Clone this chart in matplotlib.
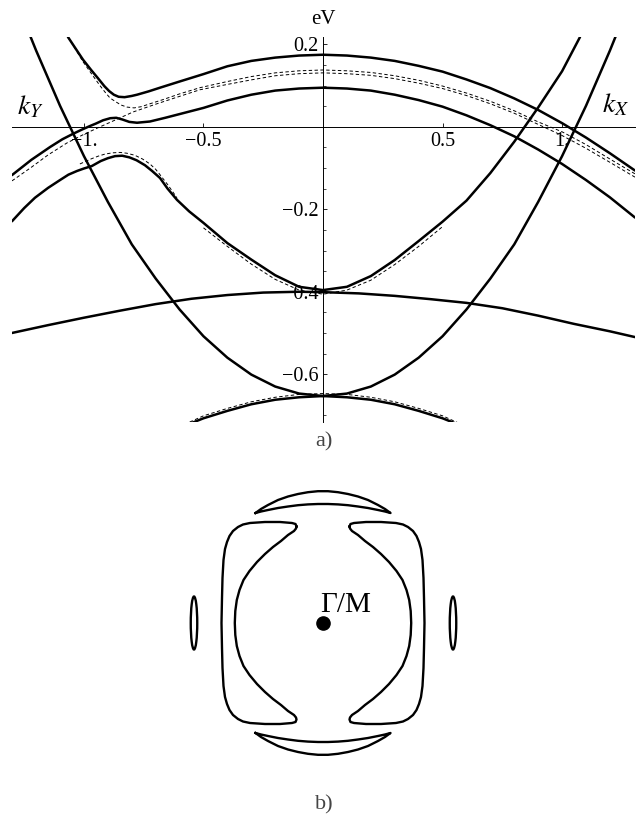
import matplotlib
matplotlib.use('Agg')
import matplotlib.pyplot as plt
from matplotlib.ticker import FixedLocator, FixedFormatter, MultipleLocator
from matplotlib.patches import Ellipse

plt.rcParams['font.family'] = ['Liberation Serif', 'DejaVu Serif']
plt.rcParams['mathtext.fontset'] = 'stix'

# ---------------- panel a) band structure (k, E in eV) ----------------
# solid bands
s1_k = [-1.067, -1.035, -1.004, -0.970, -0.940, -0.915, -0.895, -0.875, -0.855, -0.830, -0.800,
        -0.778, -0.730, -0.682, -0.600, -0.500, -0.400, -0.300, -0.200, -0.100, 0.0,
        0.100, 0.200, 0.300, 0.400, 0.500, 0.600, 0.700, 0.800, 0.900, 1.000, 1.100, 1.200, 1.305]
s1_E = [0.218, 0.190, 0.163, 0.138, 0.117, 0.099, 0.087, 0.078, 0.073, 0.072, 0.075,
        0.078, 0.086, 0.095, 0.110, 0.128, 0.147, 0.160, 0.168, 0.173, 0.175,
        0.173, 0.168, 0.160, 0.148, 0.134, 0.115, 0.094, 0.069, 0.041, 0.009, -0.026, -0.064, -0.106]

s2_k = [-1.301, -1.220, -1.142, -1.090, -1.046, -1.010, -0.975, -0.950, -0.920, -0.890, -0.865,
        -0.840, -0.810, -0.778, -0.724, -0.660, -0.600, -0.500, -0.400, -0.300, -0.200, -0.100, 0.0,
        0.100, 0.200, 0.300, 0.400, 0.500, 0.600, 0.700, 0.800, 0.900, 1.000, 1.100, 1.200, 1.305]
s2_E = [-0.117, -0.080, -0.049, -0.030, -0.017, -0.007, 0.002, 0.008, 0.016, 0.021, 0.022,
        0.018, 0.012, 0.010, 0.013, 0.022, 0.031, 0.046, 0.064, 0.078, 0.088, 0.093, 0.095,
        0.093, 0.088, 0.078, 0.065, 0.049, 0.028, 0.004, -0.023, -0.055, -0.090, -0.129, -0.171, -0.220]

s3_k = [-1.230, -1.200, -1.100, -1.000, -0.900, -0.800, -0.700, -0.600, -0.500, -0.400, -0.300,
        -0.200, -0.100, 0.0, 0.100, 0.200, 0.300, 0.400, 0.500, 0.600, 0.700, 0.800, 0.900,
        1.000, 1.100, 1.200, 1.230]
s3_E = [0.228, 0.185, 0.051, -0.071, -0.182, -0.285, -0.368, -0.443, -0.508, -0.560, -0.601,
        -0.630, -0.647, -0.653, -0.647, -0.630, -0.601, -0.560, -0.508, -0.443, -0.368, -0.285, -0.182,
        -0.071, 0.051, 0.185, 0.228]

s4_k = [-1.301, -1.250, -1.205, -1.150, -1.100, -1.065, -1.029, -1.000, -0.967, -0.930, -0.900,
        -0.870, -0.840, -0.810, -0.780, -0.745, -0.715, -0.682, -0.650, -0.611, -0.560, -0.500,
        -0.400, -0.300, -0.200, -0.100, 0.0, 0.100, 0.200, 0.300, 0.400, 0.500, 0.600, 0.700,
        0.800, 0.900, 1.000, 1.075]
s4_E = [-0.229, -0.197, -0.172, -0.148, -0.129, -0.116, -0.107, -0.101, -0.095, -0.083, -0.076,
        -0.071, -0.070, -0.074, -0.081, -0.093, -0.107, -0.124, -0.150, -0.177, -0.205, -0.233,
        -0.282, -0.322, -0.360, -0.388, -0.396, -0.388, -0.362, -0.323, -0.277, -0.230, -0.179, -0.112,
        -0.036, 0.047, 0.135, 0.218]

s6_k = [-1.301, -1.150, -1.000, -0.850, -0.700, -0.550, -0.400, -0.250, -0.100, 0.0,
        0.150, 0.300, 0.450, 0.600, 0.750, 0.900, 1.050, 1.200, 1.305]
s6_E = [-0.500, -0.481, -0.463, -0.446, -0.430, -0.417, -0.408, -0.402, -0.400, -0.401,
        -0.404, -0.410, -0.418, -0.427, -0.440, -0.458, -0.478, -0.496, -0.510]

s7_k = [-0.600, -0.500, -0.400, -0.300, -0.200, -0.100, 0.0, 0.100, 0.200, 0.300, 0.400, 0.500, 0.600]
s7_E = [-0.730, -0.707, -0.689, -0.673, -0.662, -0.656, -0.653, -0.656, -0.662, -0.673, -0.689, -0.707, -0.730]

# dashed (unhybridised) bands
d1_k = [-1.067, -1.035, -1.004, -0.965, -0.933, -0.910, -0.891, -0.870, -0.845, -0.820, -0.790,
        -0.760, -0.724, -0.670, -0.600, -0.515, -0.400, -0.300, -0.200, -0.100, 0.0,
        0.100, 0.200, 0.300, 0.400, 0.500, 0.600, 0.700, 0.800, 0.900, 1.000, 1.100, 1.200, 1.305]
d1_E = [0.218, 0.188, 0.158, 0.126, 0.100, 0.083, 0.070, 0.062, 0.053, 0.048, 0.046,
        0.049, 0.056, 0.066, 0.080, 0.095, 0.110, 0.122, 0.131, 0.136, 0.138,
        0.136, 0.132, 0.124, 0.113, 0.099, 0.082, 0.062, 0.039, 0.012, -0.012, -0.043, -0.078, -0.114]

d2_k = [-1.301, -1.220, -1.150, -1.071, -1.000, -0.933, -0.860, -0.795, -0.700, -0.600, -0.515,
        -0.400, -0.300, -0.200, -0.100, 0.0,
        0.100, 0.200, 0.300, 0.400, 0.500, 0.600, 0.700, 0.800, 0.900, 1.000, 1.100, 1.200, 1.305]
d2_E = [-0.131, -0.098, -0.068, -0.039, -0.018, 0.000, 0.019, 0.036, 0.055, 0.074, 0.090,
        0.103, 0.114, 0.124, 0.129, 0.131,
        0.129, 0.125, 0.117, 0.106, 0.093, 0.076, 0.056, 0.033, 0.006, -0.021, -0.052, -0.086, -0.122]

d3_k = [-1.017, -0.990, -0.967, -0.940, -0.912, -0.880, -0.849, -0.820, -0.787, -0.755, -0.724,
        -0.700, -0.682, -0.650, -0.611]
d3_E = [-0.090, -0.083, -0.077, -0.071, -0.066, -0.063, -0.062, -0.064, -0.069, -0.078, -0.090,
        -0.103, -0.116, -0.140, -0.172]

d4_k = [-0.500, -0.400, -0.300, -0.200, -0.100, 0.0, 0.100, 0.200, 0.300, 0.400, 0.500]
d4_E = [-0.245, -0.290, -0.333, -0.370, -0.396, -0.406, -0.396, -0.372, -0.334, -0.290, -0.242]

d5_k = [-0.580, -0.500, -0.400, -0.300, -0.200, -0.100, 0.0, 0.100, 0.200, 0.300, 0.400, 0.500, 0.580]
d5_E = [-0.722, -0.701, -0.683, -0.667, -0.656, -0.649, -0.647, -0.649, -0.656, -0.667, -0.683, -0.701, -0.722]

x_ticks = [-1.0, -0.5, 0.5, 1.0]
x_ticklabels = ['\u22121.', '\u22120.5', '0.5', '1.']
y_ticks = [-0.6, -0.4, -0.2, 0.2]
y_ticklabels = ['\u22120.6', '\u22120.4', '\u22120.2', '0.2']

# ---------------- panel b) Fermi surface (kx, ky) ----------------
left_pocket_u = [-0.265, -0.275, -0.31, -0.43, -0.58, -0.73, -0.80, -0.85, -0.90, -0.935, -0.96,
                 -0.98, -0.995, -1.005, -1.01, -1.015,
                 -1.01, -1.005, -0.995, -0.98, -0.96, -0.935, -0.90, -0.85, -0.80, -0.73,
                 -0.58, -0.43, -0.31, -0.275, -0.265,
                 -0.27, -0.29, -0.35, -0.42, -0.50, -0.58, -0.66, -0.735, -0.795, -0.835, -0.862,
                 -0.877, -0.882, -0.877, -0.862, -0.835, -0.795, -0.735, -0.66, -0.58, -0.50,
                 -0.42, -0.35, -0.29, -0.27, -0.265]
left_pocket_v = [0.965, 0.99, 1.00, 1.01, 1.01, 1.00, 0.985, 0.96, 0.92, 0.87, 0.81,
                 0.74, 0.63, 0.45, 0.25, 0.0,
                 -0.25, -0.45, -0.63, -0.74, -0.81, -0.87, -0.92, -0.96, -0.985, -1.00,
                 -1.01, -1.01, -1.00, -0.99, -0.965,
                 -0.945, -0.92, -0.88, -0.82, -0.76, -0.69, -0.61, -0.52, -0.43, -0.33, -0.23,
                 -0.12, 0.0, 0.12, 0.23, 0.33, 0.43, 0.52, 0.61, 0.69, 0.76,
                 0.82, 0.88, 0.92, 0.945, 0.965]
right_pocket_u = [0.265, 0.275, 0.31, 0.43, 0.58, 0.73, 0.80, 0.85, 0.90, 0.935, 0.96,
                  0.98, 0.995, 1.005, 1.01, 1.015,
                  1.01, 1.005, 0.995, 0.98, 0.96, 0.935, 0.90, 0.85, 0.80, 0.73,
                  0.58, 0.43, 0.31, 0.275, 0.265,
                  0.27, 0.29, 0.35, 0.42, 0.50, 0.58, 0.66, 0.735, 0.795, 0.835, 0.862,
                  0.877, 0.882, 0.877, 0.862, 0.835, 0.795, 0.735, 0.66, 0.58, 0.50,
                  0.42, 0.35, 0.29, 0.27, 0.265]
right_pocket_v = left_pocket_v

top_lens_u = [-0.675, -0.62, -0.55, -0.45, -0.35, -0.25, -0.15, -0.05, 0.05, 0.15, 0.25, 0.35,
              0.45, 0.55, 0.62, 0.675,
              0.62, 0.55, 0.45, 0.35, 0.25, 0.15, 0.05, -0.05, -0.15, -0.25, -0.35, -0.45,
              -0.55, -0.62, -0.675]
top_lens_v = [1.10, 1.14, 1.18, 1.23, 1.265, 1.29, 1.308, 1.318, 1.318, 1.308, 1.29, 1.265,
              1.23, 1.18, 1.14, 1.10,
              1.115, 1.13, 1.15, 1.165, 1.178, 1.186, 1.19, 1.19, 1.186, 1.178, 1.165, 1.15,
              1.13, 1.115, 1.10]
bottom_lens_u = top_lens_u
bottom_lens_v = [-1.10, -1.14, -1.18, -1.23, -1.265, -1.29, -1.308, -1.318, -1.318, -1.308, -1.29, -1.265,
                 -1.23, -1.18, -1.14, -1.10,
                 -1.115, -1.13, -1.15, -1.165, -1.178, -1.186, -1.19, -1.19, -1.186, -1.178, -1.165, -1.15,
                 -1.13, -1.115, -1.10]

small_pocket_u = [-1.29, 1.30]
small_pocket_v = [0.0, 0.0]
small_pocket_w = [0.065, 0.065]
small_pocket_h = [0.53, 0.53]

gamma_u = [0.0]
gamma_v = [0.0]

# ---------------- figure ----------------
fig = plt.figure(figsize=(6.41, 8.19), dpi=100)

ax = fig.add_axes([12 / 641, 1 - 422 / 819, 623 / 641, 385 / 819])
ax.set_xlim(-1.301, 1.305)
ax.set_ylim(-0.716, 0.218)
for s in ['top', 'right']:
    ax.spines[s].set_visible(False)
ax.spines['left'].set_position(('data', 0))
ax.spines['bottom'].set_position(('data', 0))
for s in ['left', 'bottom']:
    ax.spines[s].set_linewidth(0.7)
    ax.spines[s].set_zorder(1)
ax.set_axisbelow(True)
ax.patch.set_visible(False)

ax.xaxis.set_major_locator(FixedLocator(x_ticks))
ax.xaxis.set_major_formatter(FixedFormatter(x_ticklabels))
ax.yaxis.set_major_locator(FixedLocator(y_ticks))
ax.yaxis.set_major_formatter(FixedFormatter(y_ticklabels))
ax.yaxis.set_minor_locator(MultipleLocator(0.05))
ax.tick_params(axis='both', which='major', direction='in', length=3, width=0.6,
               labelsize=14.5)
ax.tick_params(axis='y', which='minor', direction='in', length=2, width=0.5)
ax.tick_params(axis='x', which='major', pad=4)
ax.tick_params(axis='y', which='major', pad=3)

dash = (0, (3.5, 2.5))
for kk, ee in [(d1_k, d1_E), (d2_k, d2_E), (d3_k, d3_E), (d4_k, d4_E), (d5_k, d5_E)]:
    ax.plot(kk, ee, color='black', lw=0.7, ls=dash, zorder=2)
for kk, ee in [(s1_k, s1_E), (s2_k, s2_E), (s3_k, s3_E), (s4_k, s4_E), (s6_k, s6_E), (s7_k, s7_E)]:
    ax.plot(kk, ee, color='black', lw=1.8, solid_joinstyle='round', solid_capstyle='round', zorder=3)

fig.text(323 / 641, 1 - 19 / 819, 'eV', ha='center', va='center', fontsize=15)
fig.text(30 / 641, 1 - 107 / 819, r'$k_Y$', ha='center', va='center', fontsize=20)
fig.text(616 / 641, 1 - 105 / 819, r'$k_X$', ha='center', va='center', fontsize=20)
fig.text(324 / 641, 1 - 442 / 819, 'a)', ha='center', va='center', fontsize=16, color='#444444')

# panel b
ax2 = fig.add_axes([173 / 641, (819 - 773) / 819, 300 / 641, 300 / 819])
ax2.set_xlim(-1.5, 1.5)
ax2.set_ylim(-1.5, 1.5)
ax2.axis('off')
lwb = 1.7
for uu, vv in [(left_pocket_u, left_pocket_v), (right_pocket_u, right_pocket_v),
               (top_lens_u, top_lens_v), (bottom_lens_u, bottom_lens_v)]:
    ax2.plot(uu, vv, color='black', lw=lwb, solid_joinstyle='round')
for u, v, w, h in zip(small_pocket_u, small_pocket_v, small_pocket_w, small_pocket_h):
    ax2.add_patch(Ellipse((u, v), w, h, fill=False, edgecolor='black', lw=lwb))
ax2.plot(gamma_u, gamma_v, 'o', color='black', markersize=9.5)
ax2.text(-0.03, 0.11, '\u0393/M', ha='left', va='baseline', fontsize=21)

fig.text(324 / 641, 1 - 805 / 819, 'b)', ha='center', va='center', fontsize=16, color='#444444')

fig.savefig('out.png', dpi=100)
